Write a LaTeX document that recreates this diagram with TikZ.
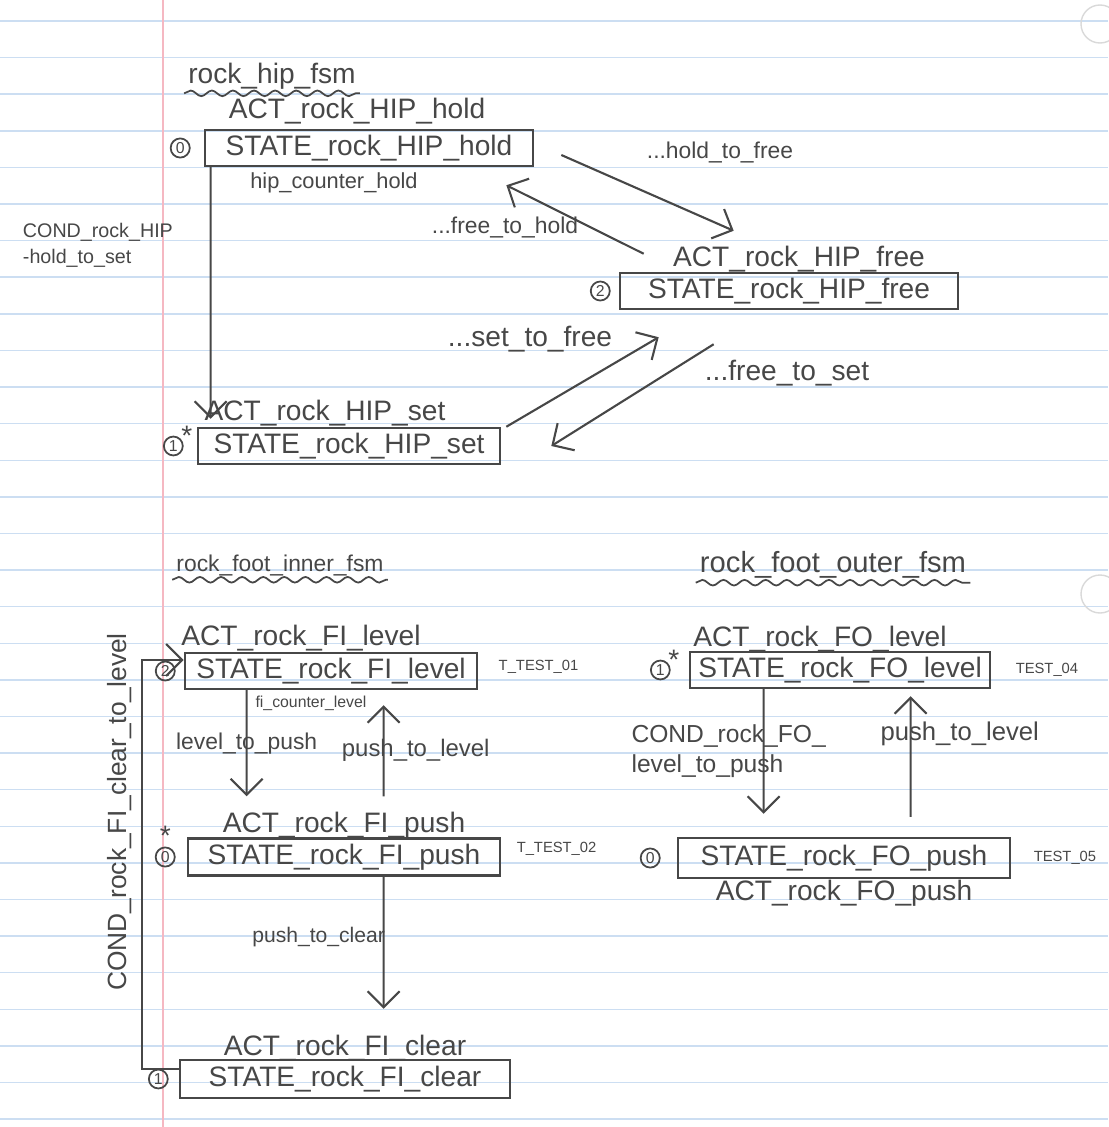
\documentclass[tikz,border=0pt]{standalone}
\usepackage{fontspec}
\setmainfont{Liberation Sans}
\usetikzlibrary{positioning,arrows.meta,decorations.pathmorphing}
\definecolor{pencil}{rgb}{0.28,0.28,0.28}
\definecolor{ruleblue}{rgb}{0.80,0.87,0.95}
\definecolor{marginred}{rgb}{0.96,0.72,0.76}
\tikzset{
  fsmbox/.style={rectangle, draw=pencil, line width=0.7pt, minimum height=0.36cm, inner xsep=2pt, inner ysep=1pt},
  numc/.style={circle, draw=pencil, line width=0.5pt, inner sep=0.5pt, font=\fontsize{4.5}{5}\selectfont},
  tinytxt/.style={font=\fontsize{4.2}{5}\selectfont},
  edgetxt/.style={font=\fontsize{6.5}{7.5}\selectfont},
  titletxt/.style={inner sep=1pt},
  arr/.style={draw=pencil, line width=0.6pt, -{Straight Barb[length=1.6mm,width=3.2mm]}},
  wavy/.style={draw=pencil, line width=0.5pt, decorate, decoration={snake, amplitude=0.8pt, segment length=6pt}}
}

\begin{document}
\begin{tikzpicture}[x=0.01cm, y=-0.01cm, font=\fontsize{8}{9.5}\selectfont, text=pencil]
\useasboundingbox (0,0) rectangle (1108,1127);
% paper
\foreach \k in {0,...,30}
  \draw[ruleblue, line width=0.4pt] (0,{21+36.6*\k}) -- (1108,{21+36.6*\k});
\draw[marginred, line width=0.5pt] (163,0) -- (163,1127);
\draw[gray!30] (1100,24) circle (19);
\draw[gray!30] (1100,594) circle (19);

% rock_hip_fsm
\node (hiptitle) [titletxt] at (272,76) {rock\_hip\_fsm};
\draw[wavy] (hiptitle.south west) -- (hiptitle.south east);

\node (hold) [fsmbox, minimum width=3.28cm] at (369,148) {STATE\_rock\_HIP\_hold};
\node (holdact) [above=-2.3pt of hold, xshift=-0.12cm] {ACT\_rock\_HIP\_hold};
\node (holdnum) [numc, left=0.13cm of hold] {0};
\node (holdcnt) [below=-2pt of hold, xshift=-0.35cm, font=\fontsize{6.2}{7}\selectfont] {hip\_counter\_hold};

\node (set) [fsmbox, minimum width=3.02cm] at (349,446) {STATE\_rock\_HIP\_set};
\node (setact) [above=-3.4pt of set, xshift=-0.24cm] {ACT\_rock\_HIP\_set};
\node (setnum) [numc, left=0.13cm of set, label={[inner sep=0pt, yshift=-2pt]north east:*}] {1};

\node (free) [fsmbox, minimum width=3.38cm] at (789,291) {STATE\_rock\_HIP\_free};
\node (freeact) [above=-3.5pt of free, xshift=0.1cm] {ACT\_rock\_HIP\_free};
\node (freenum) [numc, left=0.08cm of free] {2};

\draw[arr] ([shift={(7,0)}]hold.south west) -- ([shift={(14,-8)}]set.north west)
  node (holdset) [pos=0.31, left=0.25cm, align=left, font=\fontsize{5.6}{7.5}\selectfont] {COND\_rock\_HIP\\-hold\_to\_set};
\draw[arr] ([shift={(27,7)}]hold.east) -- ([shift={(115,-41)}]free.north west);
\draw[arr] ([shift={(25,-18)}]free.north west) -- ([shift={(-28,18)}]hold.south east);
\draw[arr] ([shift={(5,0)}]set.north east) -- ([shift={(40,27)}]free.south west);
\draw[arr] ([shift={(95,34)}]free.south west) -- ([shift={(50,0)}]set.east);

\node (hf) [edgetxt] at (720,152) {...hold\_to\_free};
\node (fh) [edgetxt] at (505,227) {...free\_to\_hold};
\node (sf) at (530,339) {...set\_to\_free};
\node (fs) at (787,373) {...free\_to\_set};

% rock_foot_inner_fsm
\node (innertitle) [titletxt, font=\fontsize{6.5}{7.5}\selectfont] at (280,565) {rock\_foot\_inner\_fsm};
\draw[wavy] (innertitle.south west) -- (innertitle.south east);

\node (filevel) [fsmbox, minimum width=2.92cm] at (331,671) {STATE\_rock\_FI\_level};
\node (filevelact) [above=-3.3pt of filevel, xshift=-0.3cm] {ACT\_rock\_FI\_level};
\node (filevelnum) [numc, left=0.08cm of filevel] {2};
\node (filevelt) [right=0.08cm of filevel, yshift=0.04cm, tinytxt] {T\_TEST\_01};
\node (ficnt) [below=-2pt of filevel, xshift=-0.2cm, font=\fontsize{4.5}{5.5}\selectfont] {fi\_counter\_level};

\node (fipush) [fsmbox, minimum width=3.12cm, minimum height=0.37cm] at (344,857) {STATE\_rock\_FI\_push};
\node (fipushact) [above=-3.8pt of fipush] {ACT\_rock\_FI\_push};
\node (fipushnum) [numc, left=0.11cm of fipush, label={[inner sep=0pt]north:*}] {0};
\node (fipusht) [right=0.03cm of fipush, yshift=0.08cm, tinytxt] {T\_TEST\_02};

\node (ficlear) [fsmbox, minimum width=3.30cm, minimum height=0.38cm] at (345,1079) {STATE\_rock\_FI\_clear};
\node (ficlearact) [above=-4.1pt of ficlear] {ACT\_rock\_FI\_clear};
\node (ficlearnum) [numc, left=0.1cm of ficlear] {1};

\draw[arr] ([shift={(63,0)}]filevel.south west) -- ([shift={(60,-41)}]fipush.north west)
  node (lp) [midway, edgetxt] {level\_to\_push};
\draw[arr] ([shift={(197,-41)}]fipush.north west) -- ([shift={(200,15)}]filevel.south west)
  node (pl) [midway, xshift=0.32cm, font=\fontsize{6.8}{8}\selectfont] {push\_to\_level};
\draw[arr] ([shift={(197,0)}]fipush.south west) -- ([shift={(205,-50)}]ficlear.north west)
  node (pc) [midway, xshift=-0.65cm, yshift=0.06cm, font=\fontsize{6}{7}\selectfont] {push\_to\_clear};
\draw[arr] ([shift={(0,-10)}]ficlear.west) -- ++(-37,0) |- ([shift={(0,-11)}]filevel.west);
\node (cl) [rotate=90, font=\fontsize{7.5}{9}\selectfont] at (120,812) {COND\_rock\_FI\_clear\_to\_level};

% rock_foot_outer_fsm
\node (outertitle) [titletxt, font=\fontsize{8.3}{10}\selectfont] at (833,565) {rock\_foot\_outer\_fsm};
\draw[wavy] (outertitle.south west) -- (outertitle.south east);

\node (folevel) [fsmbox, minimum width=3.0cm] at (840,670) {STATE\_rock\_FO\_level};
\node (folevelact) [above=-3.8pt of folevel, xshift=-0.2cm] {ACT\_rock\_FO\_level};
\node (folevelnum) [numc, left=0.18cm of folevel, label={[inner sep=0pt, yshift=-2pt]north east:*}] {1};
\node (folevelt) [right=0.12cm of folevel, tinytxt] {TEST\_04};

\node (fopush) [fsmbox, minimum width=3.32cm, minimum height=0.4cm] at (844,858) {STATE\_rock\_FO\_push};
\node (fopushact) [below=-3.3pt of fopush] {ACT\_rock\_FO\_push};
\node (fopushnum) [numc, left=0.16cm of fopush] {0};
\node (fopusht) [right=0.1cm of fopush, tinytxt] {TEST\_05};

\draw[arr] ([shift={(75,0)}]folevel.south west) -- ([shift={(87,-23)}]fopush.north west)
  node (flp) [midway, xshift=-0.35cm, align=left, font=\fontsize{7}{8.5}\selectfont] {COND\_rock\_FO\_\\level\_to\_push};
\draw[arr] ([shift={(234,-20)}]fopush.north west) -- ([shift={(222,7)}]folevel.south west)
  node (fpl) [midway, xshift=0.49cm, yshift=0.23cm, font=\fontsize{7.3}{8.5}\selectfont] {push\_to\_level};
\end{tikzpicture}
\end{document}
